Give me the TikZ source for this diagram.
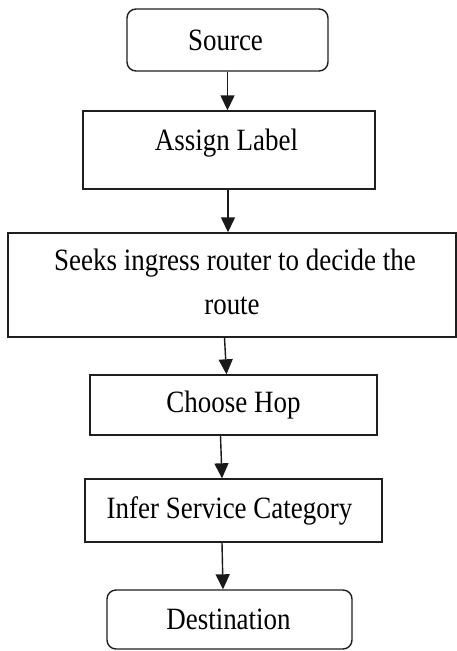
\documentclass[tikz,border=0pt]{standalone}
\usepackage{fontspec}
\setmainfont{Liberation Serif}[FakeStretch=0.87]
\usetikzlibrary{arrows.meta}
\begin{document}
\begin{tikzpicture}[x=1pt,y=-1pt,
  box/.style={draw=black!88, line width=1.4pt, inner sep=0pt, fill=white},
  rbox/.style={box, rounded corners=9pt},
  txt/.style={anchor=base, inner sep=0pt, font=\fontsize{31}{36}\selectfont},
  arr/.style={draw=black!90, line width=1.4pt, -{Triangle[length=15pt,width=14pt]}}]
\useasboundingbox (0,0) rectangle (457,651);
\fill[white] (0,0) rectangle (457,651);

% process boxes
\node[rbox, minimum width=201pt, minimum height=62pt]  (src)    at (227.5,40)  {};
\node[box,  minimum width=292pt, minimum height=78pt]  (assign) at (229,150)   {};
\node[box,  minimum width=448pt, minimum height=104pt] (seeks)  at (232,285)   {};
\node[box,  minimum width=287pt, minimum height=60pt]  (hop)    at (233.5,405) {};
\node[box,  minimum width=297pt, minimum height=63pt]  (infer)  at (233.5,510.5) {};
\node[rbox, minimum width=245pt, minimum height=59pt]  (dest)   at (229.5,619.5) {};

% labels
\node[txt] (srcT)    at (225.5,50)  {Source};
\node[txt] (assignT) at (226.5,150.5) {Assign Label};
\node[txt] (seeksT1) at (235,270)   {Seeks ingress router to decide the};
\node[txt] (seeksT2) at (232,314)   {route};
\node[txt] (hopT)    at (233.5,412.5) {Choose Hop};
\node[txt] (inferT)  at (229.5,518) {Infer Service Category};
\node[txt] (destT)   at (228.5,629) {Destination};

% connectors
\draw[arr] (src.south) -- (src.south |- assign.north);
\draw[arr] ([xshift=-1pt]assign.south) -- ([xshift=-1pt]assign.south |- seeks.north);
\draw[arr] ([xshift=-7.5pt]seeks.south) -- ([xshift=-7pt]hop.north);
\draw[arr] ([xshift=-13pt]hop.south) -- ([xshift=-11.5pt]infer.north);
\draw[arr] ([xshift=-11.5pt]infer.south) -- ([xshift=-6.5pt]dest.north);
\end{tikzpicture}
\end{document}
